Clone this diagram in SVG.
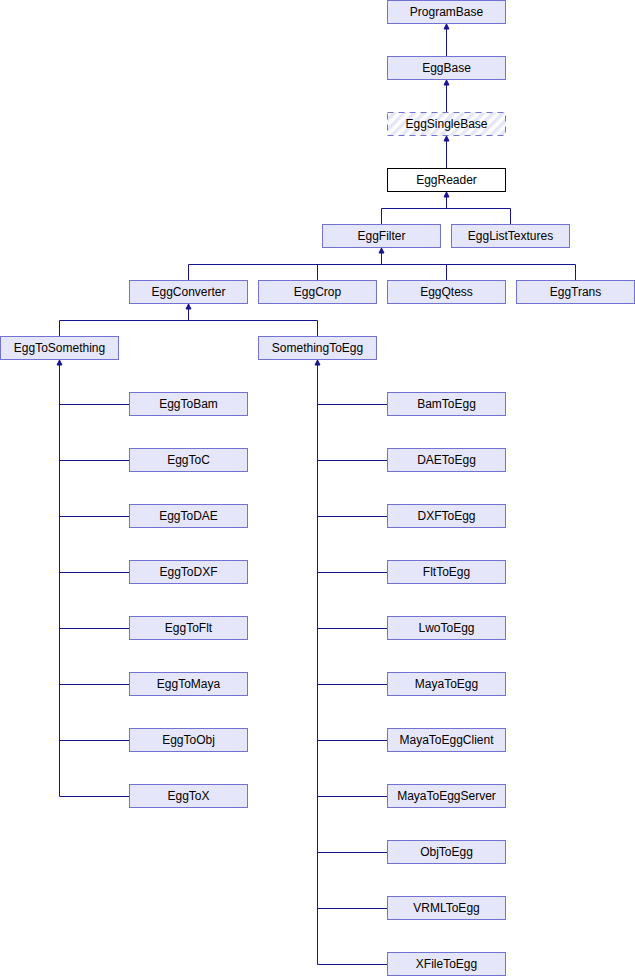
<svg xmlns="http://www.w3.org/2000/svg" width="635" height="976" viewBox="0 0 635 976">
<style>
.n rect{fill:#e6e6fa;stroke:#7272d4;stroke-width:1}
.n text{font-family:"Liberation Sans",Arial,sans-serif;font-size:12px;fill:#000;text-anchor:middle}
.cur rect{fill:#fff;stroke:#000}
.trunc rect{fill:url(#hatch);stroke:#7272d4;stroke-dasharray:6,5}
.e{fill:none;stroke:#14148e;stroke-width:1}
.a{fill:#14148e;stroke:#14148e;stroke-width:1}
</style>
<defs>
<pattern id="hatch" patternUnits="userSpaceOnUse" width="7" height="7" patternTransform="rotate(45)">
<rect x="0" y="0" width="7" height="7" fill="#fff"/>
<rect x="0" y="0" width="3.5" height="7" fill="#e6e6fa"/>
</pattern>
<path id="arr" d="M0,0 L-2.5,5 L2.5,5 Z"/>
</defs>
<g id="connectors">
<path class="e" d="M446.5,23.5V56.5M446.5,79.5V112.5M446.5,135.5V168.5"/>
<path class="e" d="M446.5,191.5V208.5M381.5,208.5H510.5M381.5,208.5V224.5M510.5,208.5V224.5"/>
<path class="e" d="M381.5,247.5V264.5M188.5,264.5H575.5M188.5,264.5V280.5M317.5,264.5V280.5M446.5,264.5V280.5M575.5,264.5V280.5"/>
<path class="e" d="M188.5,303.5V320.5M59.5,320.5H317.5M59.5,320.5V336.5M317.5,320.5V336.5"/>
<path class="e" d="M59.5,359.5V796.5M59.5,404.5H129.5M59.5,460.5H129.5M59.5,516.5H129.5M59.5,572.5H129.5M59.5,628.5H129.5M59.5,684.5H129.5M59.5,740.5H129.5M59.5,796.5H129.5"/>
<path class="e" d="M317.5,359.5V964.5M317.5,404.5H387.5M317.5,460.5H387.5M317.5,516.5H387.5M317.5,572.5H387.5M317.5,628.5H387.5M317.5,684.5H387.5M317.5,740.5H387.5M317.5,796.5H387.5M317.5,852.5H387.5M317.5,908.5H387.5M317.5,964.5H387.5"/>
<use href="#arr" class="a" x="446.5" y="24"/>
<use href="#arr" class="a" x="446.5" y="80"/>
<use href="#arr" class="a" x="446.5" y="136"/>
<use href="#arr" class="a" x="446.5" y="192"/>
<use href="#arr" class="a" x="381.5" y="248"/>
<use href="#arr" class="a" x="188.5" y="304"/>
<use href="#arr" class="a" x="59.5" y="360"/>
<use href="#arr" class="a" x="317.5" y="360"/>
</g>
<g id="ProgramBase" class="n"><rect x="387.5" y="0.5" width="118" height="23"/><text x="446.5" y="16">ProgramBase</text></g>
<g id="EggBase" class="n"><rect x="387.5" y="56.5" width="118" height="23"/><text x="446.5" y="72">EggBase</text></g>
<g id="EggSingleBase" class="n trunc"><rect x="387.5" y="112.5" width="118" height="23"/><text x="446.5" y="128">EggSingleBase</text></g>
<g id="EggReader" class="n cur"><rect x="387.5" y="168.5" width="118" height="23"/><text x="446.5" y="184">EggReader</text></g>
<g id="EggFilter" class="n"><rect x="322.5" y="224.5" width="118" height="23"/><text x="381.5" y="240">EggFilter</text></g>
<g id="EggListTextures" class="n"><rect x="451.5" y="224.5" width="118" height="23"/><text x="510.5" y="240">EggListTextures</text></g>
<g id="EggConverter" class="n"><rect x="129.5" y="280.5" width="118" height="23"/><text x="188.5" y="296">EggConverter</text></g>
<g id="EggCrop" class="n"><rect x="258.5" y="280.5" width="118" height="23"/><text x="317.5" y="296">EggCrop</text></g>
<g id="EggQtess" class="n"><rect x="387.5" y="280.5" width="118" height="23"/><text x="446.5" y="296">EggQtess</text></g>
<g id="EggTrans" class="n"><rect x="516.5" y="280.5" width="118" height="23"/><text x="575.5" y="296">EggTrans</text></g>
<g id="EggToSomething" class="n"><rect x="0.5" y="336.5" width="118" height="23"/><text x="59.5" y="352">EggToSomething</text></g>
<g id="SomethingToEgg" class="n"><rect x="258.5" y="336.5" width="118" height="23"/><text x="317.5" y="352">SomethingToEgg</text></g>
<g id="EggToBam" class="n"><rect x="129.5" y="392.5" width="118" height="23"/><text x="188.5" y="408">EggToBam</text></g>
<g id="EggToC" class="n"><rect x="129.5" y="448.5" width="118" height="23"/><text x="188.5" y="464">EggToC</text></g>
<g id="EggToDAE" class="n"><rect x="129.5" y="504.5" width="118" height="23"/><text x="188.5" y="520">EggToDAE</text></g>
<g id="EggToDXF" class="n"><rect x="129.5" y="560.5" width="118" height="23"/><text x="188.5" y="576">EggToDXF</text></g>
<g id="EggToFlt" class="n"><rect x="129.5" y="616.5" width="118" height="23"/><text x="188.5" y="632">EggToFlt</text></g>
<g id="EggToMaya" class="n"><rect x="129.5" y="672.5" width="118" height="23"/><text x="188.5" y="688">EggToMaya</text></g>
<g id="EggToObj" class="n"><rect x="129.5" y="728.5" width="118" height="23"/><text x="188.5" y="744">EggToObj</text></g>
<g id="EggToX" class="n"><rect x="129.5" y="784.5" width="118" height="23"/><text x="188.5" y="800">EggToX</text></g>
<g id="BamToEgg" class="n"><rect x="387.5" y="392.5" width="118" height="23"/><text x="446.5" y="408">BamToEgg</text></g>
<g id="DAEToEgg" class="n"><rect x="387.5" y="448.5" width="118" height="23"/><text x="446.5" y="464">DAEToEgg</text></g>
<g id="DXFToEgg" class="n"><rect x="387.5" y="504.5" width="118" height="23"/><text x="446.5" y="520">DXFToEgg</text></g>
<g id="FltToEgg" class="n"><rect x="387.5" y="560.5" width="118" height="23"/><text x="446.5" y="576">FltToEgg</text></g>
<g id="LwoToEgg" class="n"><rect x="387.5" y="616.5" width="118" height="23"/><text x="446.5" y="632">LwoToEgg</text></g>
<g id="MayaToEgg" class="n"><rect x="387.5" y="672.5" width="118" height="23"/><text x="446.5" y="688">MayaToEgg</text></g>
<g id="MayaToEggClient" class="n"><rect x="387.5" y="728.5" width="118" height="23"/><text x="446.5" y="744">MayaToEggClient</text></g>
<g id="MayaToEggServer" class="n"><rect x="387.5" y="784.5" width="118" height="23"/><text x="446.5" y="800">MayaToEggServer</text></g>
<g id="ObjToEgg" class="n"><rect x="387.5" y="840.5" width="118" height="23"/><text x="446.5" y="856">ObjToEgg</text></g>
<g id="VRMLToEgg" class="n"><rect x="387.5" y="896.5" width="118" height="23"/><text x="446.5" y="912">VRMLToEgg</text></g>
<g id="XFileToEgg" class="n"><rect x="387.5" y="952.5" width="118" height="23"/><text x="446.5" y="968">XFileToEgg</text></g>
</svg>
